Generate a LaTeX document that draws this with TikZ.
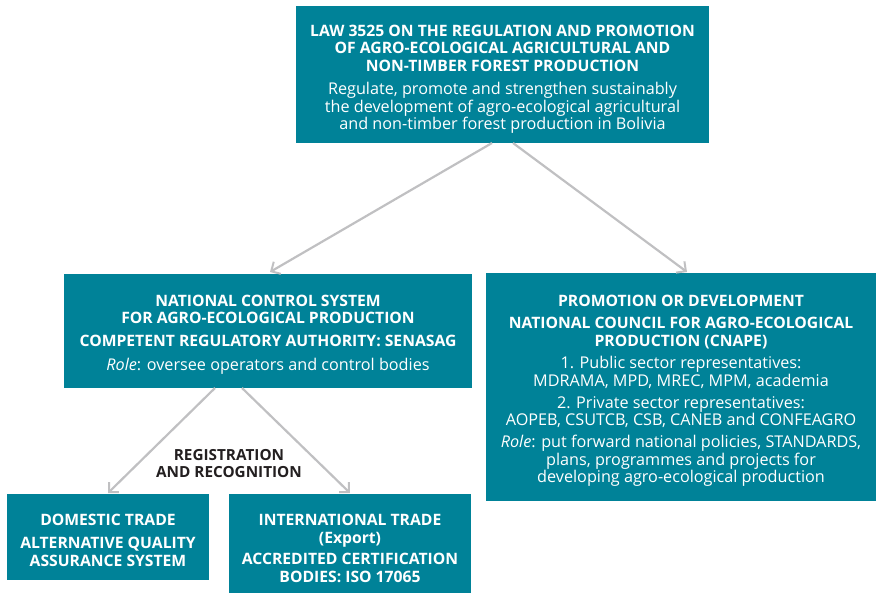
\documentclass[tikz,border=0pt]{standalone}
\usepackage{fontspec}
\setmainfont{Open Sans}
\usetikzlibrary{arrows.meta}
\definecolor{teal}{RGB}{0,130,152}
\definecolor{arrowgrey}{RGB}{192,192,194}
\definecolor{darktext}{RGB}{35,31,32}
\newcommand\bt[1]{{\fontsize{15.7}{17.5}\selectfont\bfseries #1}}
\tikzset{
  box/.style={rectangle, fill=teal, inner sep=0pt},
  txt/.style={text=white, inner sep=0pt, align=center,
    font=\fontsize{16.2}{17.5}\selectfont},
  conn/.style={draw=arrowgrey, line width=2.2pt, -{Straight Barb[length=7pt,width=14pt,line width=2pt]}},
  lbl/.style={text=darktext, align=center, font=\fontsize{15.3}{17}\selectfont\bfseries}
}
\begin{document}
\begin{tikzpicture}[x=1pt,y=-1pt]
\useasboundingbox (0,0) rectangle (876,593);
% boxes
\node[box, minimum width=413pt, minimum height=137pt] (law) at (502.5,74.5) {};
\node[box, minimum width=408pt, minimum height=114pt] (ncs) at (268,331) {};
\node[box, minimum width=390pt, minimum height=228pt] (prom) at (681,387.5) {};
\node[box, minimum width=202pt, minimum height=86pt] (dom) at (108,537) {};
\node[box, minimum width=242pt, minimum height=100pt] (intl) at (350,544) {};
% texts
\node[txt] (lawtext) at (502.5,79.5)
  {\bt{LAW 3525 ON THE REGULATION AND PROMOTION}\\
   \bt{OF AGRO-ECOLOGICAL AGRICULTURAL AND}\\
   \bt{NON-TIMBER FOREST PRODUCTION}\\[6pt]
   Regulate, promote and strengthen sustainably\\
   the development of agro-ecological agricultural\\
   and non-timber forest production in Bolivia};
\node[txt] (ncstext) at (268,334.5)
  {\bt{NATIONAL CONTROL SYSTEM}\\
   \bt{FOR AGRO-ECOLOGICAL PRODUCTION}\\[5.5pt]
   \bt{COMPETENT REGULATORY AUTHORITY: SENASAG}\\[6pt]
   \textit{Role}: oversee operators and control bodies};
\node[txt] (promtext) at (681,391)
  {\bt{PROMOTION OR DEVELOPMENT}\\[4.5pt]
   \bt{NATIONAL COUNCIL FOR AGRO-ECOLOGICAL}\\
   \bt{PRODUCTION (CNAPE)}\\[5pt]
   1. Public sector representatives:\\
   MDRAMA, MPD, MREC, MPM, academia\\[4.5pt]
   2. Private sector representatives:\\
   AOPEB, CSUTCB, CSB, CANEB and CONFEAGRO\\[4.5pt]
   \textit{Role}: put forward national policies, STANDARDS,\\
   plans, programmes and projects for\\
   developing agro-ecological production};
\node[txt] (domtext) at (108,540.5)
  {\bt{DOMESTIC TRADE}\\[5.5pt]
   \bt{ALTERNATIVE QUALITY}\\
   \bt{ASSURANCE SYSTEM}};
\node[txt] (intltext) at (350,548.5)
  {\bt{INTERNATIONAL TRADE}\\
   \bt{(Export)}\\[4pt]
   \bt{ACCREDITED CERTIFICATION}\\
   \bt{BODIES: ISO 17065}};
\node[lbl] (reg) at (229,464) {REGISTRATION\\AND RECOGNITION};
% connectors
\coordinate (la) at (492,143);
\coordinate (lb) at (513,143);
\coordinate (ma) at (215,388);
\coordinate (mb) at (242,388);
\coordinate (ta) at (270,272);
\coordinate (tb) at (687,272);
\coordinate (tc) at (108,493);
\coordinate (td) at (350,493);
\draw[conn] (la) -- (ta);
\draw[conn] (lb) -- (tb);
\draw[conn] (ma) -- (tc);
\draw[conn] (mb) -- (td);
\end{tikzpicture}
\end{document}
